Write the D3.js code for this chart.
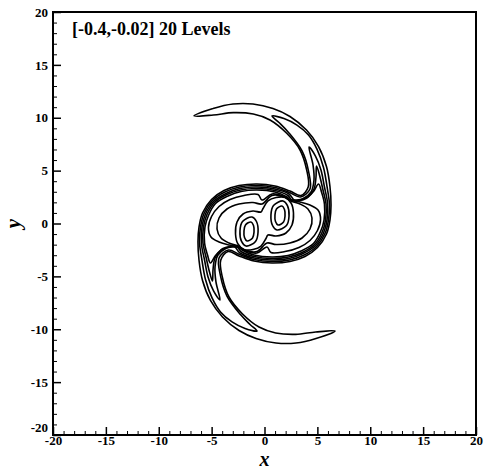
<!DOCTYPE html>
<html>
<head>
<meta charset="utf-8">
<style>
  body { margin: 0; background: #fff; }
  svg { display: block; }
  .axis text { font-family: "Liberation Serif", "Times New Roman", serif; font-weight: bold; font-size: 13px; fill: #000; }
  .axis line { stroke: #000; }
  .contour { fill: none; stroke: #000; stroke-width: 1.6; stroke-linejoin: round; }
</style>
<title>Contours</title>
</head>
<body>
<svg id="chart" width="486" height="476"></svg>
<script src="https://cdn.jsdelivr.net/npm/d3@7"></script>
<script>
// tick labels
var majorTicks = [-20, -15, -10, -5, 0, 5, 10, 15, 20];
var minorTicks = d3.range(-20, 21, 1).filter(function (v) { return v % 5 !== 0; });

var title = "[-0.4,-0.02] 20 Levels";

// contour lines, (x, y) in plot units.
// the field is point symmetric about the origin, so each closed
// contour is stored as one half; the other half is the same points negated.
var outerHalf = [[-6.67,10.17],[-4.87,10.87],[-2.98,11.30],[-1.09,11.30],[0.80,10.87],[2.41,10.12],
  [3.97,8.84],[5.11,7.28],[5.86,5.39],[6.19,3.50],[6.29,1.75],[6.19,0.33],[5.86,-0.99],[5.01,-2.27],
  [3.83,-3.12],[2.41,-3.59],[0.71,-3.74],[-0.99,-3.55],[-2.41,-3.07],[-3.45,-2.65],[-4.14,-3.48],
  [-3.99,-5.06],[-3.36,-6.95],[-2.10,-8.53],[-0.52,-9.79],[1.06,-10.35],[2.95,-10.48],[4.84,-10.26]];

var band2Half = [[0.71,10.17],[1.84,9.93],[3.07,9.31],[4.16,8.37],[4.96,7.04],[5.58,5.30],[5.91,3.50],
  [6.15,1.75],[6.05,0.33],[5.72,-0.95],[4.92,-2.17],[3.74,-2.98],[2.36,-3.45],[0.71,-3.59],[-0.99,-3.40],
  [-2.36,-2.93],[-3.40,-2.51],[-4.30,-3.26],[-4.16,-4.96],[-3.55,-6.86],[-2.27,-8.61],[-1.37,-9.55]];

var band3Half = [[4.21,7.23],[4.82,6.38],[5.34,5.06],[5.67,3.45],[5.96,1.94],[5.91,0.33],[5.58,-0.90],
  [4.82,-2.08],[3.64,-2.84],[2.32,-3.31],[0.71,-3.45],[-0.99,-3.26],[-2.32,-2.79],[-2.88,-2.17],
  [-3.74,-2.41],[-4.40,-2.98],[-4.68,-4.11],[-4.59,-5.53]];

var band4Half = [[4.92,5.44],[5.20,4.59],[5.53,3.17],[5.82,1.84],[5.77,0.33],[5.44,-0.85],[4.73,-1.99],
  [3.55,-2.74],[2.27,-3.17],[0.71,-3.31],[-0.99,-3.12],[-2.22,-2.65],[-2.60,-2.22],[-3.45,-2.27],
  [-4.11,-2.51],[-4.68,-3.26],[-4.87,-4.40]];

var band5Half = [[5.11,3.74],[5.39,2.98],[5.67,1.84],[5.63,0.33],[5.30,-0.76],[4.63,-1.89],[3.45,-2.60],
  [2.22,-3.03],[0.71,-3.17],[-0.99,-2.98],[-2.13,-2.51],[-2.41,-2.27],[-3.26,-2.17],[-3.92,-2.36],
  [-4.63,-3.03]];

var inner1Half = [[-0.14,1.42],[0.33,2.13],[1.09,2.46],[1.94,2.46],[2.51,1.94],[2.74,0.99],[2.60,-0.14],
  [2.03,-0.90],[1.09,-1.18],[0.33,-1.09]];

var inner2Half = [[-0.24,1.84],[0.71,2.65],[1.84,2.53],[2.51,2.13],[3.36,1.84],[4.11,1.37],[4.49,0.52],
  [4.30,-0.52],[3.55,-1.37],[2.41,-1.84],[1.09,-1.99]];

var inner3Half = [[-0.24,2.22],[0.71,2.79],[1.75,2.60],[2.51,2.19],[3.36,2.03],[4.30,1.75],[5.06,1.28],
  [5.30,0.38],[5.01,-0.66],[4.30,-1.61],[3.26,-2.27],[1.94,-2.65],[0.61,-2.74]];

// rings round the right-hand core (the left core is the same ring negated)
var coreRing1 = [[1.65,1.65],[1.89,1.32],[1.94,0.71],[1.80,0.14],[1.28,-0.14],[1.04,0.19],[0.99,0.80],[1.13,1.37]];
var coreRing2 = [[1.75,2.13],[2.17,1.70],[2.32,0.71],[2.08,-0.19],[1.18,-0.61],[0.76,-0.19],[0.61,0.80],[0.85,1.70]];

var symmetricContours = [outerHalf, band2Half, band3Half, band4Half, band5Half, inner1Half, inner2Half, inner3Half];
var coreRings = [coreRing1, coreRing2];

function negate(pts) { return pts.map(function (p) { return [-p[0], -p[1]]; }); }

var svg = d3.select("#chart");
var plotLeft = 53, plotTop = 12, plotRight = 476, plotBottom = 435;

var x = d3.scaleLinear().domain([-20, 20]).range([plotLeft, plotRight]);
var y = d3.scaleLinear().domain([-20, 20]).range([plotBottom, plotTop]);

var line = d3.line()
  .x(function (d) { return x(d[0]); })
  .y(function (d) { return y(d[1]); })
  .curve(d3.curveCatmullRomClosed.alpha(0.5));

var g = svg.append("g");

symmetricContours.forEach(function (half) {
  g.append("path").attr("class", "contour").attr("d", line(half.concat(negate(half))));
});
coreRings.forEach(function (ring) {
  g.append("path").attr("class", "contour").attr("d", line(ring));
  g.append("path").attr("class", "contour").attr("d", line(negate(ring)));
});

var fmt = function (d) { return String(d); };

// minor ticks
svg.append("g").attr("class", "axis")
  .attr("transform", "translate(0," + plotBottom + ")")
  .call(d3.axisBottom(x).tickValues(minorTicks).tickSize(-4).tickFormat(""))
  .call(function (a) { a.select(".domain").remove(); });
svg.append("g").attr("class", "axis")
  .attr("transform", "translate(" + plotLeft + ",0)")
  .call(d3.axisLeft(y).tickValues(minorTicks).tickSize(-4).tickFormat(""))
  .call(function (a) { a.select(".domain").remove(); });

// major ticks + labels
svg.append("g").attr("class", "axis")
  .attr("transform", "translate(0," + plotBottom + ")")
  .call(d3.axisBottom(x).tickValues(majorTicks).tickSize(-8).tickPadding(1).tickFormat(fmt))
  .call(function (a) { a.select(".domain").remove(); a.selectAll("line").attr("stroke-width", 1.5); });
svg.append("g").attr("class", "axis")
  .attr("transform", "translate(" + plotLeft + ",0)")
  .call(d3.axisLeft(y).tickValues(majorTicks).tickSize(-8).tickPadding(5).tickFormat(fmt))
  .call(function (a) {
    a.select(".domain").remove();
    a.selectAll("line").attr("stroke-width", 1.5);
    // the lowest label sits a little above its tick, clear of the x labels
    a.selectAll(".tick text").filter(function (d) { return d === -20; }).attr("dy", "-0.25em");
  });

// frame
svg.append("rect")
  .attr("x", plotLeft).attr("y", plotTop)
  .attr("width", plotRight - plotLeft).attr("height", plotBottom - plotTop)
  .attr("fill", "none").attr("stroke", "#000").attr("stroke-width", 2);

// title
svg.append("text")
  .attr("x", 72).attr("y", 35)
  .style("font-family", "'Liberation Serif', serif")
  .style("font-weight", "bold").style("font-size", "18px")
  .text(title);

// axis titles
svg.append("text")
  .attr("x", (plotLeft + plotRight) / 2).attr("y", 466)
  .attr("text-anchor", "middle")
  .style("font-family", "'Liberation Serif', serif")
  .style("font-weight", "bold").style("font-style", "italic").style("font-size", "20px")
  .text("x");

svg.append("text")
  .attr("transform", "translate(20," + ((plotTop + plotBottom) / 2) + ") rotate(-90)")
  .attr("text-anchor", "middle")
  .style("font-family", "'Liberation Serif', serif")
  .style("font-weight", "bold").style("font-style", "italic").style("font-size", "21px")
  .text("y");
</script>
</body>
</html>
